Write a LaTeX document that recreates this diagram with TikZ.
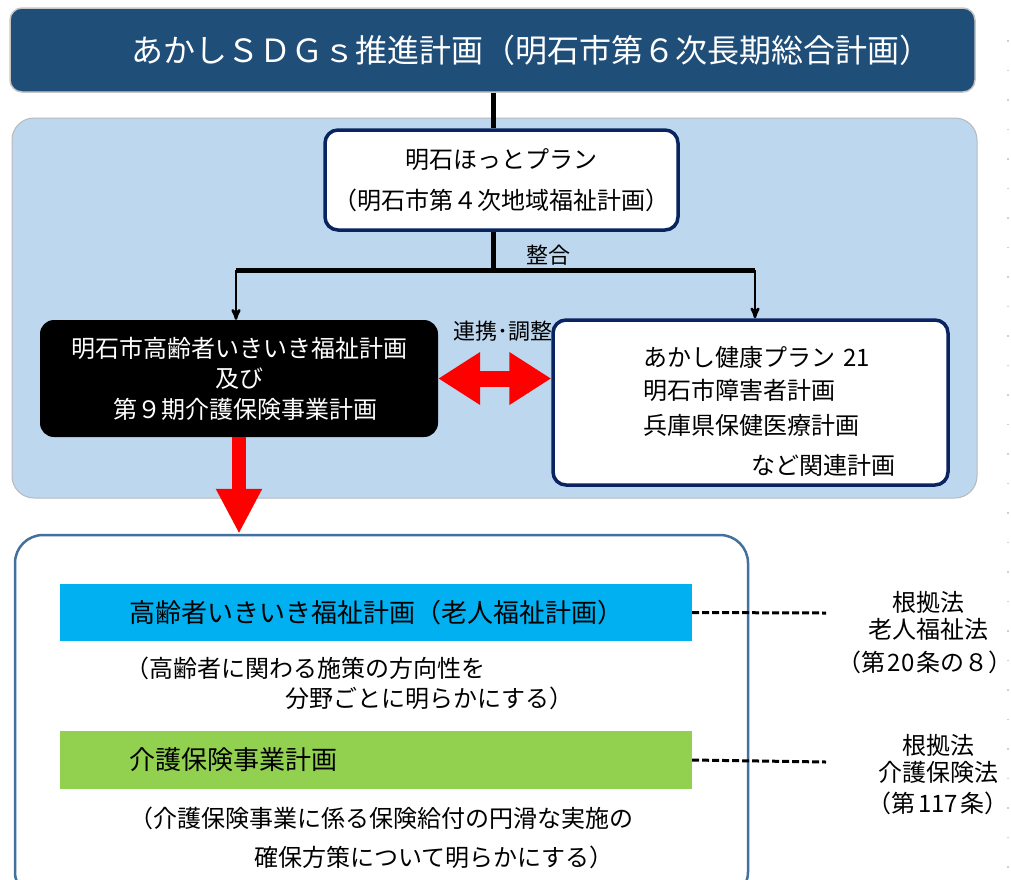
\documentclass[tikz,border=0pt]{standalone}
\usepackage{fontspec}
\setmainfont{Noto Sans CJK JP}
\usetikzlibrary{arrows,arrows.meta,shapes}

\definecolor{sdgsblue}{HTML}{1F4E79}
\definecolor{panelblue}{HTML}{BDD7EE}
\definecolor{plannavy}{HTML}{0A2462}
\definecolor{planedge}{HTML}{41719C}
\definecolor{barcyan}{HTML}{00B0F0}
\definecolor{bargreen}{HTML}{92D050}

\newcommand{\jpsize}[2]{\fontsize{#1pt}{#2pt}\selectfont}

\begin{document}
\begin{tikzpicture}[x=1pt,y=-1pt,>=stealth',auto]

  \tikzstyle{panel}=[rectangle,draw=gray!55,line width=1,fill=panelblue,
    rounded corners=22,minimum width=965,minimum height=380]
  \tikzstyle{banner}=[rectangle,draw=gray!45,line width=1.5,fill=sdgsblue,
    text=white,rounded corners=12,minimum width=965,minimum height=84,
    font=\jpsize{32}{38}]
  \tikzstyle{plan}=[rectangle,draw=plannavy,line width=3.5,fill=white,
    rounded corners=13,inner sep=0pt]
  \tikzstyle{elder}=[rectangle,fill=black,text=white,rounded corners=14,
    minimum width=398,minimum height=117,align=center,font=\jpsize{24}{30.5}]
  \tikzstyle{planframe}=[rectangle,draw=planedge,line width=2.5,fill=white,
    rounded corners=28,minimum width=733,minimum height=365]
  \tikzstyle{bar}=[rectangle,minimum width=632,text width=632,inner xsep=0pt,
    minimum height=57,align=left,font=\jpsize{26}{30}]
  \tikzstyle{desc}=[anchor=west,align=left,inner sep=0pt,font=\jpsize{24}{30}]
  \tikzstyle{law}=[align=center,inner sep=0pt,font=\jpsize{24}{27}]

  \useasboundingbox (0,0) rectangle (1011,879);
  \draw [gray!35,line width=1.5,dash pattern=on 1.5pt off 28pt] (1008,40) -- (1008,879);

  \node  (panel)    at (494.5,308)   [panel]  {};
  \node  (sdgs)     at (492.5,50)    [banner]
         {\hspace*{77pt}あかしＳＤＧｓ推進計画（明石市第６次長期総合計画）};

  \node  (hotto)    at (501.5,180)   [plan,minimum width=353,minimum height=100,
                                      align=center,font=\jpsize{24}{35}]
         {明石ほっとプラン\\[6pt]（明石市第４次地域福祉計画）};
  \node  (elder)    at (239,378.5)   [elder]
         {明石市高齢者いきいき福祉計画\\及び\\\hspace*{12pt}第９期介護保険事業計画};
  \node  (related)  at (750.5,402.5) [plan,minimum width=395,minimum height=165] {};
  \node  (relnames) at (769,411)     [align=left,text width=252,inner sep=0pt,
                                      font=\jpsize{24}{33}]
         {あかし健康プラン 21\\明石市障害者計画\\[2pt]兵庫県保健医療計画\\[7pt]\hfill など関連計画};

  \node  (seigo)    at (548,255)     [font=\jpsize{22}{26}] {整合};
  \node  (renkei)   at (503,331)     [font=\jpsize{22}{26}] {連携･調整};

  \node  (outer)    at (381.5,717.5) [planframe] {};
  \node  (oldbar)   at (376,612.5)   [bar,fill=barcyan]
         {\hspace*{69pt}高齢者いきいき福祉計画（老人福祉計画）};
  \node  (olddesc)  at (125,683)     [desc]
         {（高齢者に関わる施策の方向性を\\\hspace*{160pt}分野ごとに明らかにする）};
  \node  (carebar)  at (376,760)     [bar,fill=bargreen,minimum height=58]
         {\hspace*{69pt}介護保険事業計画};
  \node  (caredesc) at (129,837.5)   [desc]
         {（介護保険事業に係る保険給付の円滑な実施の\\[9pt]\hspace*{125pt}確保方策について明らかにする）};

  \node  (oldlaw)   at (925,633)     [law]
         {\hspace*{6pt}根拠法\\\hspace*{6pt}老人福祉法\\[6pt]（第\hspace{2pt}20\hspace{2pt}条の８）};
  \node  (carelaw)  at (938,775)     [law]
         {根拠法\\介護保険法\\[4pt]（第\hspace{3pt}117\hspace{3pt}条）};

  \coordinate (spine)   at (493,270);
  \coordinate (lbranch) at (236,270);
  \coordinate (rbranch) at (755,270);
  \coordinate (oldgap)  at (826,613);
  \coordinate (caregap) at (826,762);

  \tikzstyle{trunk}=[line width=5]
  \tikzstyle{branch}=[->,line width=2.5]
  \tikzstyle{link}=[draw=red,line width=16,
    {Triangle[length=42pt,width=50pt]}-{Triangle[length=42pt,width=50pt]}]
  \tikzstyle{drop}=[draw=red,line width=14,-{Triangle[length=45pt,width=43pt]}]
  \tikzstyle{basis}=[line width=3,dash pattern=on 7pt off 3pt]

  \draw [trunk]  (sdgs.south -| spine) -- (hotto.north -| spine);
  \draw [trunk]  (hotto.south -| spine) -- (spine);
  \draw [trunk]  (lbranch) -- (rbranch);
  \draw [branch] (lbranch) -- (elder.north -| lbranch);
  \draw [branch] (rbranch) -- (related.north -| rbranch);
  \draw [link]   (elder.east) -- (elder.east -| related.west);
  \draw [drop]   (elder.south) -- (elder.south |- outer.north);
  \draw [basis]  (oldbar.east) -- (oldgap);
  \draw [basis]  (carebar.east) -- (caregap);
\end{tikzpicture}
\end{document}
